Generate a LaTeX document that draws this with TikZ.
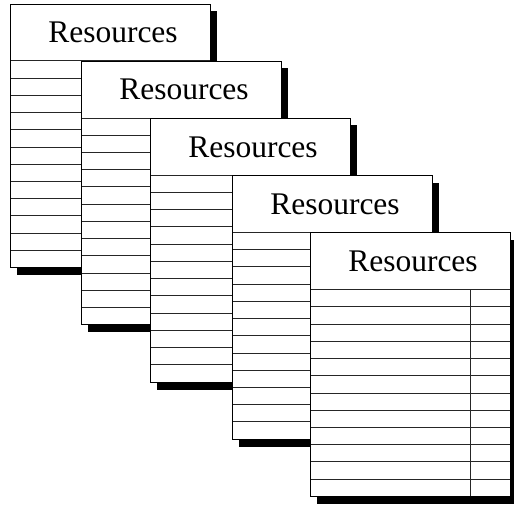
\documentclass[tikz,border=0pt]{standalone}
\usepackage{fontspec}
\setmainfont{Liberation Serif}
\begin{document}
\begin{tikzpicture}[x=1pt,y=-1pt,
  sheet/.style={draw=black,fill=white,line width=1pt},
  shadowbox/.style={fill=black},
  rule/.style={line width=0.9pt,draw=black!85},
  title/.style={font=\fontsize{31.5}{36}\selectfont,inner sep=0pt}]
\useasboundingbox (0,0) rectangle (514,504);
\foreach \i/\x/\y in {1/10/4,2/81/61.2,3/150/118.4,4/232/175.6,5/310/232.8} {
  \fill[shadowbox] (\x+7,\y+7) rectangle (\x+207,\y+271.2);
  \draw[sheet] (\x,\y) rectangle (\x+200,\y+263.6);
  \node[title] (h\i) at (\x+103,\y+28.5) {Resources};
  \foreach \k in {0,...,11} \draw[rule] (\x,\y+56.8+\k*17.23) -- (\x+200,\y+56.8+\k*17.23);
  \draw[rule] (\x+160.7,\y+56.8) -- (\x+160.7,\y+263.6);
  \draw[line width=1pt] (\x,\y) rectangle (\x+200,\y+263.6);
}
\end{tikzpicture}
\end{document}
